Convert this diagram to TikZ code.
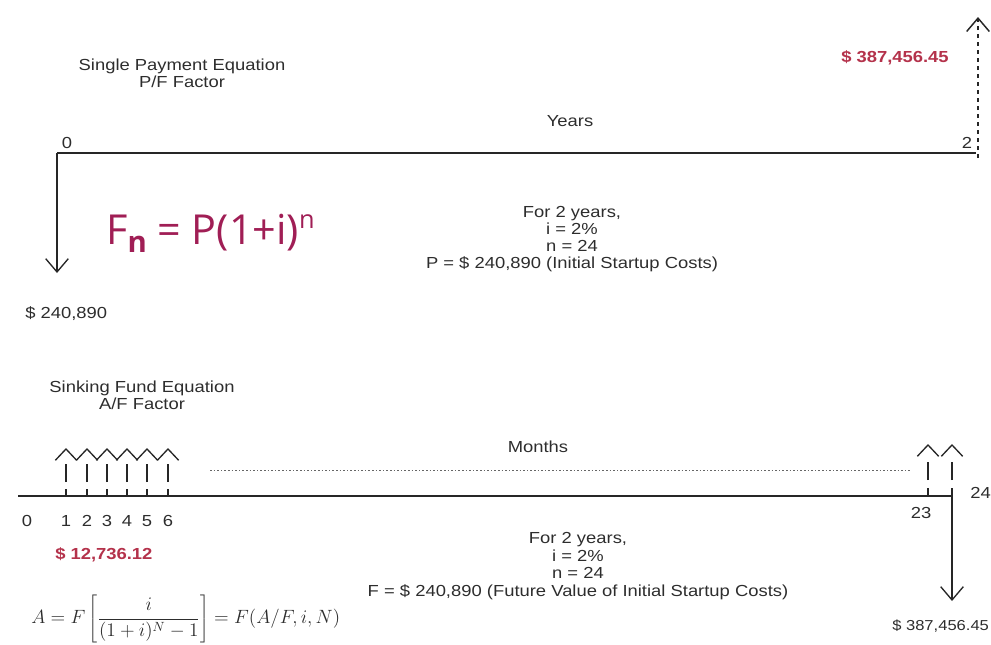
\documentclass[tikz,border=0pt]{standalone}
\usepackage{fontspec}
\setmainfont[FakeStretch=1.15]{Liberation Sans}
\newfontfamily\osans{Open Sans}
\usetikzlibrary{arrows.meta}
\definecolor{redv}{RGB}{180,50,75}
\definecolor{magf}{RGB}{160,30,85}
\definecolor{txtc}{RGB}{45,45,45}
\begin{document}
\begin{tikzpicture}[x=0.75pt,y=-0.75pt,
  txt/.style={font=\fontsize{12}{12.5}\selectfont, inner sep=0pt, text=txtc, align=center},
  redtxt/.style={font=\fontsize{12}{12.5}\selectfont\bfseries, inner sep=0pt, text=redv},
  axisline/.style={line width=1pt, draw=black!85},
  bigtip/.tip={Straight Barb[length=10pt,width=17pt]},
  smalltip/.tip={Straight Barb[length=8.5pt,width=16pt]},
  flowdash/.style={line width=1pt, draw=black!85, dash pattern=on 5.25pt off 5.25pt on 13.5pt off 30pt},
  topdash/.style={line width=1.1pt, draw=black!85, dash pattern=on 3pt off 3pt}
]
\useasboundingbox (0,0) rectangle (991,644);

% ---------------- top: single payment ----------------
\node[txt] (sptitle) at (182,73) {Single Payment Equation\\P/F Factor};
\node[redtxt] (fv) at (895,58) {\$ 387,456.45};
\node[txt] (years) at (570,121) {Years};
\node[txt] (tzero) at (67,143) {0};
\node[txt] (ttwo) at (967,143) {2};

\coordinate (t0) at (57,153);
\coordinate (t2) at (976,153);
\coordinate (tdown) at (57,273);
\coordinate (tupb) at (978,158);
\coordinate (tupt) at (978,17);
\draw[axisline] (t0) -- (t2);
\draw[axisline, -bigtip] (t0) -- (tdown);
\draw[topdash, -bigtip] (tupb) -- (tupt);

\node[inner sep=0pt, anchor=base west, text=magf, font=\osans\fontsize{31}{31}\selectfont] (fn) at (106,244)
  {F\raisebox{-6pt}{\fontsize{22}{22}\selectfont\bfseries n} = P(1+i)\raisebox{12pt}{\fontsize{19}{19}\selectfont n}};

\node[txt, font=\fontsize{12}{12.6}\selectfont] (tinfo) at (572,239)
  {For 2 years,\\i = 2\%\\n = 24\\P = \$ 240,890 (Initial Startup Costs)};
\node[txt, anchor=west] (pv) at (25,314) {\$ 240,890};

% ---------------- bottom: sinking fund ----------------
\node[txt] (sftitle) at (142,395) {Sinking Fund Equation\\A/F Factor};
\node[txt] (months) at (538,447) {Months};

\coordinate (b0) at (18,496);
\coordinate (b24) at (952,496);
\coordinate (bdown) at (952,601);
\draw[axisline] (b0) -- (b24);
\draw[axisline, -bigtip] (b24) -- (bdown);

\coordinate (dots0) at (210,470);
\coordinate (dots1) at (910,470);
\draw[line width=0.6pt, draw=black!60, dash pattern=on 1.2pt off 1.5pt] (dots0) -- (dots1);

\foreach \k/\x in {1/66,2/87,3/107,4/127,5/147,6/168}{
  \coordinate (m\k) at (\x,496);
  \coordinate (m\k t) at (\x,448);
  \draw[flowdash, -smalltip] (m\k) -- (m\k t);
  \node[txt] (n\k) at (\x,521) {\k};
}
\foreach \k/\x in {23/928,24/952}{
  \coordinate (m\k) at (\x,496);
  \coordinate (m\k t) at (\x,444);
  \draw[flowdash, dash pattern=on 6pt off 6pt on 13.5pt off 30pt, -smalltip] (m\k) -- (m\k t);
}
\node[txt] (nzero) at (27,521) {0};
\node[txt] (n23) at (921,513) {23};
\node[txt, anchor=west] (n24) at (970,493) {24};

\node[redtxt, anchor=west] (ann) at (55,555) {\$ 12,736.12};

\node[txt, font=\fontsize{12}{13.3}\selectfont] (binfo) at (578,566)
  {For 2 years,\\i = 2\%\\n = 24\\F = \$ 240,890 (Future Value of Initial Startup Costs)};

\node[inner sep=0pt, anchor=west, text=txtc, font=\fontsize{14.5}{16}\selectfont] (aform) at (31,619)
  {$\displaystyle A = F\left[\frac{i}{(1+i)^N-1}\right] = F(A/F, i, N)$};

\node[txt, anchor=west, font=\fontsize{10.8}{12}\selectfont] (fvb) at (892,626) {\$ 387,456.45};
\end{tikzpicture}
\end{document}
